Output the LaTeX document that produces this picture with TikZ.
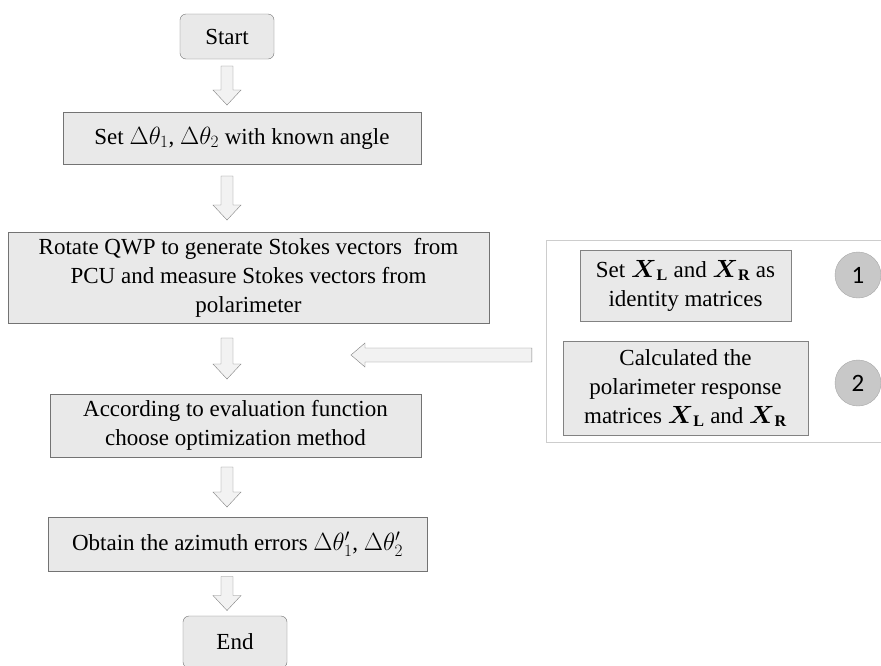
\documentclass[tikz,border=0pt]{standalone}
\usepackage{amsmath}
\usepackage{amssymb}
\usepackage{fontspec}
\setmainfont{Liberation Serif}
\newfontfamily\numfont{Carlito}
\usepackage{tikz}
\usetikzlibrary{calc}
\definecolor{boxfill}{RGB}{233,233,233}
\definecolor{boxline}{RGB}{115,115,115}
\definecolor{arrowfill}{RGB}{242,242,242}
\definecolor{arrowline}{RGB}{130,130,130}
\definecolor{panelline}{RGB}{205,205,205}
\definecolor{dotfill}{RGB}{200,200,200}
\tikzset{
  stepbox/.style={draw=boxline,fill=boxfill,rectangle,align=center,inner sep=0pt},
  termbox/.style={stepbox,rounded corners=6pt},
  innerbox/.style={stepbox,draw=arrowline},
  numdot/.style={circle,fill=dotfill,draw=arrowline!70,minimum size=46pt,inner sep=0pt,font=\numfont\fontsize{25}{30}\selectfont},
  blockarrow/.style={draw=arrowline,fill=arrowfill,line join=miter}
}
\newcommand{\flowarrow}[3]{%
  \path (#1.south) -- (#2.north) coordinate[pos=0.5] (mid);
  \draw[blockarrow] (mid -| start) ++(-6,-#3/2) -- ++(12,0) -- ++(0,#3-15) -- ++(8,0)
    -- ++(-14,15) -- ++(-14,-15) -- ++(8,0) -- cycle;}
\begin{document}
\begin{tikzpicture}[x=1pt,y=-1pt,font=\fontsize{23}{29}\selectfont]
            \useasboundingbox[fill=white] (0,0) rectangle (881,665);
            \node[termbox,minimum width=94pt,minimum height=45pt] (start) at (227,36.5) {Start};
            \node[stepbox,minimum width=358pt,minimum height=52pt] (set) at (242,138) {Set $\Delta\theta_1$, $\Delta\theta_2$ with known angle};
            \node[stepbox,minimum width=481pt,minimum height=91pt] (rotate) at (248.5,277.5) {Rotate QWP to generate Stokes vectors\ \ from\\ PCU and measure Stokes vectors from\\ polarimeter};
            \node[stepbox,minimum width=371pt,minimum height=63pt] (choose) at (235.5,425.5) {According to evaluation function\\ choose optimization method};
            \node[stepbox,minimum width=379pt,minimum height=54pt] (obtain) at (237.5,544) {Obtain the azimuth errors $\Delta\theta_1'$, $\Delta\theta_2'$};
            \node[termbox,minimum width=104pt,minimum height=52pt] (end) at (235,642) {End};
            \node[draw=panelline,minimum width=344pt,minimum height=202pt] (panel) at (718,341) {};
            \node[innerbox,minimum width=211pt,minimum height=71pt] (identity) at (685.5,285.5) {Set $\boldsymbol{X}_{\mathbf{L}}$ and $\boldsymbol{X}_{\mathbf{R}}$ as\\ identity matrices};
            \node[innerbox,minimum width=245pt,minimum height=94pt] (response) at (685.5,388) {Calculated the\\ polarimeter response\\ matrices $\boldsymbol{X}_{\mathbf{L}}$ and $\boldsymbol{X}_{\mathbf{R}}$};
            \node[numdot] (one) at (858,275) {1};
            \node[numdot] (two) at (858,383) {2};
            \flowarrow{start}{set}{39}
            \flowarrow{set}{rotate}{44}
            \flowarrow{rotate}{choose}{41}
            \flowarrow{choose}{obtain}{40}
            \flowarrow{obtain}{end}{34}
            \coordinate (tip) at (351,355);
            \coordinate (tail) at ($(panel.west |- tip)+(-14,0)$);
            \draw[blockarrow] (tip) -- ++(14,-12) -- ++(0,5) -- ([yshift=7pt]tail) -- ([yshift=-7pt]tail)
              -- ([shift={(14pt,-7pt)}]tip) -- ++(0,5) -- cycle;
        \end{tikzpicture}
\end{document}
